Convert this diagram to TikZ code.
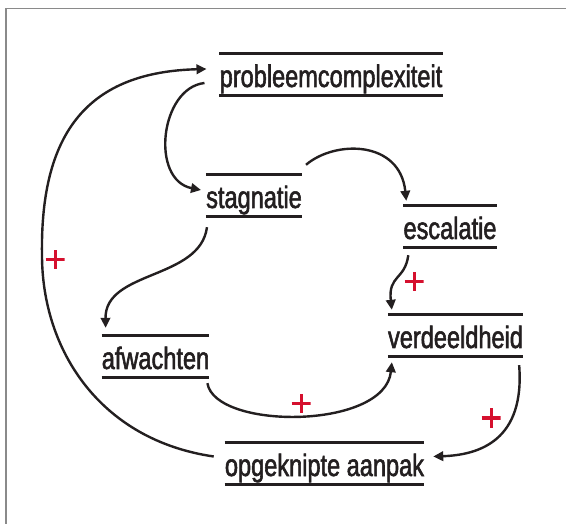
\documentclass[tikz,border=0pt]{standalone}
\usepackage{fontspec}
\setmainfont[FakeStretch=0.76,FakeBold=1.8]{Liberation Sans}
\usetikzlibrary{arrows.meta,calc}
\definecolor{ink}{HTML}{231F20}
\definecolor{plusred}{HTML}{D5102E}
\definecolor{framegray}{HTML}{8A8A8A}
\tikzset{
  varbox/.style={inner xsep=0pt, inner ysep=0pt, text height=33pt, text depth=8pt,
    anchor=base, font=\fontsize{31}{34}\selectfont, text=ink},
  bar/.style={draw=ink, line width=2.8pt},
  link/.style={draw=ink, line width=2.4pt, -{Triangle[length=10pt,width=9.5pt]}},
  plussign/.style={minimum size=19pt, inner sep=0pt,
    path picture={\draw[plusred, line width=3pt]
      (path picture bounding box.north) -- (path picture bounding box.south)
      (path picture bounding box.west) -- (path picture bounding box.east);}},
}
\begin{document}
\begin{tikzpicture}[x=1pt,y=-1pt]
\useasboundingbox (0,0) rectangle (566,524);
\draw[framegray, line width=1.5pt] (6,530) -- (6,8.5) -- (570,8.5);

\node[varbox] (p) at (331,87) {probleemcomplexiteit};
\node[varbox] (s) at (254,208) {stagnatie};
\node[varbox] (e) at (450,239) {escalatie};
\node[varbox] (a) at (155.5,369) {afwachten};
\node[varbox] (v) at (455.5,348) {verdeeldheid};
\node[varbox] (o) at (324.5,476) {opgeknipte aanpak};

\foreach \n in {p,s,e,a,v,o}
  \draw[bar] (\n.north west) -- (\n.north east) (\n.south west) -- (\n.south east);

% probleemcomplexiteit -> stagnatie
\draw[link] ($(p.west)+(-15,8.5)$) .. controls (160,88) and (150,180) .. ($(s.west)+(-5,-5.5)$);
% stagnatie -> escalatie
\draw[link] ($(s.north east)+(4,-10)$) .. controls (335,140) and (400,140) .. ($(e.north west)+(3,-5)$);
% stagnatie -> afwachten
\draw[link] ($(s.south west)+(1,11)$) .. controls (200,280) and (105,270) .. ($(a.north west)+(4,-8)$);
% escalatie -> verdeeldheid
\draw[link] ($(e.south west)+(5,8)$) .. controls (405,280) and (388,275) .. ($(v.north west)+(4,-5)$);
% afwachten -> verdeeldheid
\draw[link] ($(a.south east)+(-2,6)$) .. controls (215,430) and (385,430) .. ($(v.south west)+(4,6)$);
% verdeeldheid -> opgeknipte aanpak
\draw[link] ($(v.south east)+(-4,9)$) .. controls (525,440) and (480,455) .. ($(o.east)+(9,-7)$);
% opgeknipte aanpak -> probleemcomplexiteit
\coordinate (bend) at (42,255);
\draw[link] ($(o.west)+(-11,-7)$) .. controls (100,440) and (42,350) .. (bend)
  .. controls (40,130) and (90,72) .. ($(p.west)+(-13,-5.5)$);

\node[plussign] (pl1) at (55,260) {};
\node[plussign] (pl2) at (414,282) {};
\node[plussign] (pl3) at (301,404) {};
\node[plussign] (pl4) at (491,418) {};
\end{tikzpicture}
\end{document}
